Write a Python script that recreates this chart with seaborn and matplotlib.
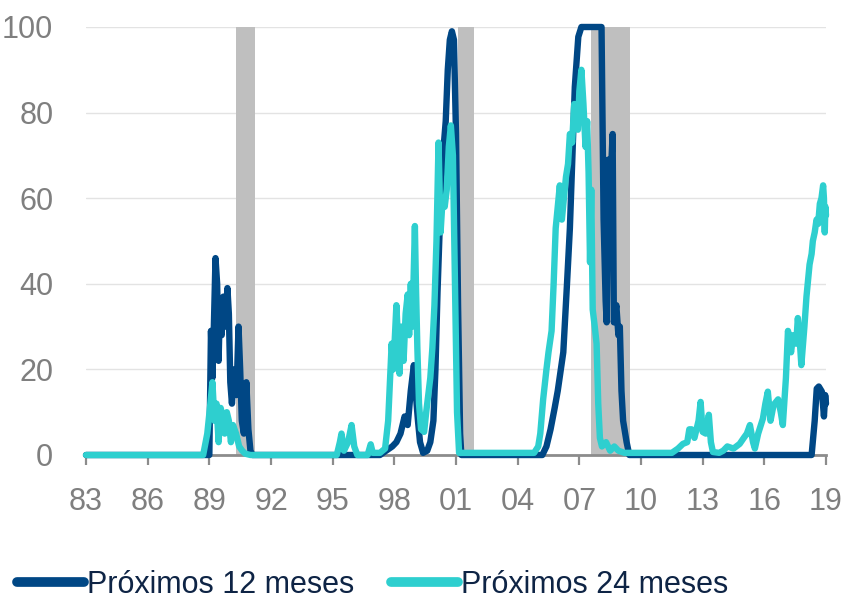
import pandas as pd
import matplotlib
matplotlib.use("Agg")
import matplotlib.pyplot as plt
import seaborn as sns
from matplotlib.lines import Line2D

# Probabilidad de recesion (EE.UU.)
anios_12 = [1983.0, 1989.0, 1989.08, 1989.15, 1989.22, 1989.3, 1989.38, 1989.45, 1989.52, 1989.6,
            1989.68, 1989.78, 1989.88, 1989.95, 1990.02, 1990.1, 1990.2, 1990.32, 1990.42, 1990.5,
            1990.58, 1990.68, 1990.8, 1990.9, 1991.0, 1991.1,
            1997.3, 1997.6, 1997.9, 1998.1, 1998.3, 1998.5, 1998.65, 1998.8, 1998.95, 1999.05,
            1999.15, 1999.25, 1999.4, 1999.6, 1999.75, 1999.9, 2000.0, 2000.1, 2000.2, 2000.3,
            2000.4, 2000.5, 2000.6, 2000.7, 2000.8, 2000.9, 2001.0, 2001.1, 2001.2, 2001.26,
            2005.2, 2005.4, 2005.6, 2005.8, 2005.95, 2006.1, 2006.22, 2006.4, 2006.54, 2006.65,
            2006.78, 2006.95, 2007.1, 2008.08, 2008.18, 2008.28, 2008.33, 2008.4, 2008.5, 2008.62,
            2008.68, 2008.8, 2008.9, 2008.97, 2009.05, 2009.13, 2009.3, 2009.43,
            2018.3, 2018.45, 2018.55, 2018.65, 2018.8, 2018.9, 2018.96, 2019.0]
prob_12 = [0, 0, 29, 18, 30, 46, 40, 22, 36, 28,
           37, 30, 39, 33, 17, 12, 20, 14, 30, 20,
           8, 5, 17, 6, 1, 0,
           0, 1, 2, 3, 5, 9, 7, 15, 21, 14,
           8, 3, 0.5, 1, 3, 8, 20, 38, 52, 65,
           72, 78, 90, 97, 99, 97, 75, 35, 5, 0,
           0, 2, 6, 11, 15, 20, 24, 40, 53, 68,
           86, 97.7, 100, 100, 55, 36, 31, 69, 62, 75,
           31, 35, 28, 30, 15, 8, 3, 0,
           0, 8, 15.5, 16, 14.8, 9, 14, 12]

anios_24 = [1983.0, 1988.7, 1988.9, 1989.05, 1989.15, 1989.25, 1989.35, 1989.45, 1989.55, 1989.65,
            1989.75, 1989.85, 1989.95, 1990.05, 1990.15, 1990.3, 1990.45, 1990.6, 1990.75, 1991.0,
            1995.2, 1995.35, 1995.43, 1995.55, 1995.75, 1995.92, 1996.05, 1996.2, 1996.7, 1996.85,
            1996.95, 1997.3, 1997.55, 1997.7, 1997.87, 1997.95, 1998.1, 1998.25, 1998.35, 1998.45,
            1998.55, 1998.65, 1998.72, 1998.8, 1998.88, 1999.0, 1999.05, 1999.12, 1999.2, 1999.3,
            1999.45, 1999.55, 1999.65, 1999.75, 1999.85, 1999.95, 2000.05, 2000.15, 2000.25, 2000.35,
            2000.45, 2000.55, 2000.65, 2000.75, 2000.85, 2000.95, 2001.05, 2001.15,
            2004.8, 2005.0, 2005.1, 2005.24, 2005.4, 2005.5, 2005.65, 2005.75, 2005.85, 2005.95,
            2006.05, 2006.15, 2006.25, 2006.35, 2006.45, 2006.54, 2006.65, 2006.75, 2006.85, 2006.93,
            2007.0, 2007.1, 2007.2, 2007.3, 2007.38, 2007.45, 2007.52, 2007.58, 2007.65, 2007.75,
            2007.84, 2007.92, 2008.0, 2008.1, 2008.3, 2008.5, 2008.7, 2008.9, 2009.2,
            2011.5, 2011.8, 2012.04, 2012.25, 2012.35, 2012.46, 2012.6, 2012.7, 2012.8, 2012.9,
            2013.0, 2013.15, 2013.3, 2013.4, 2013.5, 2013.8, 2014.0, 2014.2, 2014.5, 2014.8,
            2015.0, 2015.15, 2015.3, 2015.45, 2015.54, 2015.7, 2015.93, 2016.05, 2016.17, 2016.3,
            2016.45, 2016.67, 2016.8, 2016.9, 2017.05, 2017.15, 2017.3, 2017.4, 2017.55, 2017.63,
            2017.72, 2017.8, 2017.95, 2018.05, 2018.15, 2018.2, 2018.3, 2018.36, 2018.45, 2018.54,
            2018.62, 2018.7, 2018.78, 2018.86, 2018.9, 2018.94, 2018.97, 2019.0]
prob_24 = [0, 0, 5, 12, 17, 8, 12, 3, 11, 9,
           5, 10, 8, 3, 7, 5, 2, 1, 0.3, 0,
           0, 3, 5, 1, 3, 7, 2, 0, 0, 2.5,
           0.5, 0.5, 1.5, 8, 26, 20, 35, 19, 30, 22,
           33, 37.5, 28, 40, 30, 53.5, 40, 25, 12, 6,
           5.4, 10, 14, 18, 25, 35, 50, 73, 52, 60,
           58, 62, 72, 77, 70, 40, 10, 0.5,
           0.5, 2, 5, 13, 20, 24, 29, 40, 53, 58,
           63, 55, 60, 65, 68, 75, 73, 82, 78, 76,
           85, 90, 82, 72, 78, 66, 45, 62, 34, 30,
           26, 12, 4, 2, 3, 1, 2, 1, 0.5,
           0.5, 1.5, 2.6, 3, 6, 6, 4, 6, 8, 12.4,
           5.4, 5, 9.4, 3, 0.7, 0.5, 1, 2, 1.5, 2.6,
           4, 5, 7, 3, 1.5, 5, 8.5, 12, 14.8, 8,
           11.7, 13, 10, 7, 18, 29, 24, 28, 26, 32,
           27, 21, 30, 37, 42, 44.5, 47, 50, 52, 55,
           54, 58.7, 60, 63, 60, 52, 58, 56]

# Recesiones (inicio, fin)
recesiones = [(1990.3, 1991.2), (2001.1, 2001.87), (2007.58, 2009.45)]

ticks_x = list(range(1983, 2020, 3))
etiquetas_x = ["83", "86", "89", "92", "95", "98", "01", "04", "07", "10", "13", "16", "19"]
ticks_y = [0, 20, 40, 60, 80, 100]

nombres = ["Próximos 12 meses", "Próximos 24 meses"]
colores = {"Próximos 12 meses": "#004785", "Próximos 24 meses": "#2ecfcf"}

df = pd.concat([
    pd.DataFrame({"anio": anios_12, "prob": prob_12, "serie": nombres[0]}),
    pd.DataFrame({"anio": anios_24, "prob": prob_24, "serie": nombres[1]}),
])

sns.set_style("white")
plt.rcParams["font.family"] = ["Liberation Sans", "DejaVu Sans"]

fig = plt.figure(figsize=(8.48, 6.01), dpi=100)
ax = fig.add_axes([86 / 848, 1 - 455 / 601, 740 / 848, 428 / 601])

# franjas grises de recesion
for ini, fin in recesiones:
    ax.axvspan(ini, fin, color="#bfbfbf", lw=0, zorder=1)

sns.lineplot(data=df, x="anio", y="prob", hue="serie", hue_order=nombres, palette=colores,
             estimator=None, linewidth=4.6, legend=False, ax=ax, zorder=3)
for ln in ax.get_lines():
    ln.set_solid_joinstyle("round")
    ln.set_solid_capstyle("round")
    ln.set_clip_on(False)

ax.set_xlim(1983, 2019)
ax.set_ylim(0, 100)
ax.set_xticks(ticks_x)
ax.set_xticklabels(etiquetas_x)
ax.set_yticks(ticks_y)
ax.set_xlabel("")
ax.set_ylabel("")

ax.yaxis.grid(True, color="#e3e3e3", lw=1)
ax.set_axisbelow(True)
for s in ["top", "right", "left"]:
    ax.spines[s].set_visible(False)
ax.spines["bottom"].set_color("#8c8c8c")
ax.spines["bottom"].set_linewidth(2)
ax.tick_params(axis="x", which="major", bottom=True, length=7, width=1.6, color="#8c8c8c",
               labelsize=22, labelcolor="#7f7f7f", pad=16)
ax.tick_params(axis="y", left=False, labelsize=22, labelcolor="#7f7f7f", pad=20)

handles = [Line2D([0], [0], color=colores[n], lw=7, solid_capstyle="round") for n in nombres]
fig.legend(handles, nombres, loc="center left", bbox_to_anchor=(0.002, 0.027), ncol=2,
           frameon=False, fontsize=22, handlelength=2.2, handletextpad=0.1,
           columnspacing=1.2, borderpad=0, labelcolor="#0e2445")

fig.savefig("out.png", dpi=100)
